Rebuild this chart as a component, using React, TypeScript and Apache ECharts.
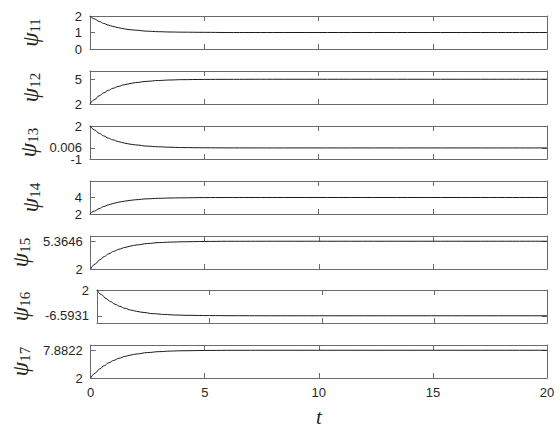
import React, { useEffect, useRef } from "react";
import * as echarts from "echarts";

const times = [0, 0.2, 0.4, 0.6, 0.8, 1, 1.25, 1.5, 1.75, 2, 2.5, 3, 3.5, 4, 5, 6, 8, 20];

const psi11 = [2, 1.82, 1.67, 1.55, 1.45, 1.37, 1.29, 1.22, 1.17, 1.14, 1.08, 1.05, 1.03, 1.02, 1.01, 1.0, 1, 1];
const psi12 = [2, 2.54, 2.99, 3.35, 3.65, 3.9, 4.14, 4.33, 4.48, 4.6, 4.75, 4.85, 4.91, 4.95, 4.98, 4.99, 5, 5];
const psi13 = [2, 1.64, 1.34, 1.1, 0.9, 0.74, 0.58, 0.45, 0.35, 0.28, 0.17, 0.11, 0.07, 0.04, 0.02, 0.01, 0.006, 0.006];
const psi14 = [2, 2.36, 2.66, 2.9, 3.1, 3.26, 3.43, 3.55, 3.65, 3.73, 3.84, 3.9, 3.94, 3.96, 3.99, 4.0, 4, 4];
const psi15 = [2, 2.61, 3.11, 3.52, 3.85, 4.13, 4.4, 4.61, 4.78, 4.91, 5.09, 5.2, 5.26, 5.3, 5.34, 5.36, 5.3646, 5.3646];
const psi16 = [2, 0.44, -0.84, -1.88, -2.73, -3.43, -4.13, -4.68, -5.1, -5.43, -5.89, -6.16, -6.34, -6.44, -6.53, -6.57, -6.5931, -6.5931];
const psi17 = [2, 3.06, 3.94, 4.65, 5.24, 5.72, 6.19, 6.57, 6.86, 7.09, 7.4, 7.59, 7.71, 7.78, 7.84, 7.87, 7.8822, 7.8822];

const seriesNames = ["11", "12", "13", "14", "15", "16", "17"];
const seriesValues = [psi11, psi12, psi13, psi14, psi15, psi16, psi17];
const yMins = [0, 2, -1, 2, 2, -9, 2];
const yMaxs = [2, 6, 2, 6, 6, 2, 9];
// main tick labels for each panel, plus extra (overlapping) ones drawn on a helper axis
const yTicks = [
  [0, 1, 2],
  [2, 5],
  [-1, 2],
  [2, 4],
  [2, 5.3646],
  [-6.5931, 2],
  [2, 7.8822],
];
const yExtraTicks = [[], [], [0.006], [], [], [], []];
const xTicks = [0, 5, 10, 15, 20];

const tops = [16, 71, 126, 181, 236, 290, 345];
const nameGaps = [48, 48, 50, 48, 58, 65, 58];

const frameColor = "#6a6a6a";
const textColor = "#262626";

export default function App() {
  const ref = useRef<HTMLDivElement>(null);
  useEffect(() => {
    if (!ref.current) return;
    const chart = echarts.init(ref.current, undefined, { renderer: "svg" });
    const grids: any[] = [];
    const xAxes: any[] = [];
    const yAxes: any[] = [];
    const series: any[] = [];
    const n = seriesValues.length;
    const labelFont = {
      fontSize: 13,
      color: textColor,
      fontFamily: "Liberation Sans, Arial, sans-serif",
    };
    for (let i = 0; i < n; i++) {
      grids.push({ left: 90, right: 13, top: tops[i], height: 33 });
      const last = i === n - 1;
      const baseX = {
        type: "value",
        gridIndex: i,
        min: 0,
        max: 20,
        interval: 5,
        splitLine: { show: false },
        axisLine: { show: true, onZero: false, lineStyle: { color: frameColor, width: 1 } },
        axisTick: { show: true, inside: true, length: 5, lineStyle: { color: frameColor } },
      };
      xAxes.push({
        ...baseX,
        position: "bottom",
        axisLabel: {
          show: last,
          margin: 8,
          ...labelFont,
          customValues: xTicks,
        },
        name: last ? "t" : "",
        nameLocation: "middle",
        nameGap: 28,
        nameTextStyle: {
          fontFamily: "Liberation Serif, serif",
          fontStyle: "italic",
          fontSize: 21,
          color: textColor,
        },
      });
      xAxes.push({ ...baseX, position: "top", axisLabel: { show: false } });
      const baseY = {
        type: "value",
        gridIndex: i,
        min: yMins[i],
        max: yMaxs[i],
        splitLine: { show: false },
        axisLine: { show: true, onZero: false, lineStyle: { color: frameColor, width: 1 } },
        axisTick: {
          show: true,
          inside: true,
          length: 5,
          lineStyle: { color: frameColor },
          customValues: [...yTicks[i], ...yExtraTicks[i]],
        },
      };
      const mainIndex = yAxes.length;
      yAxes.push({
        ...baseY,
        position: "left",
        axisLabel: {
          show: true,
          margin: 8,
          ...labelFont,
          customValues: yTicks[i],
          showMinLabel: true,
          showMaxLabel: true,
          hideOverlap: false,
          formatter: (v: number) => String(v),
        },
        name: "{p|ψ}{s|" + seriesNames[i] + "}",
        nameLocation: "middle",
        nameRotate: 90,
        nameGap: nameGaps[i],
        nameTextStyle: {
          color: textColor,
          rich: {
            p: {
              fontFamily: "Liberation Serif, serif",
              fontStyle: "italic",
              fontSize: 23,
              color: textColor,
              lineHeight: 24,
            },
            s: {
              fontFamily: "Liberation Serif, serif",
              fontSize: 15,
              color: textColor,
              lineHeight: 24,
              verticalAlign: "bottom",
              padding: [9, 0, 0, 0],
            },
          },
        },
      });
      yAxes.push({ ...baseY, position: "right", axisLabel: { show: false } });
      if (yExtraTicks[i].length) {
        yAxes.push({
          type: "value",
          gridIndex: i,
          min: yMins[i],
          max: yMaxs[i],
          position: "left",
          splitLine: { show: false },
          axisLine: { show: false, onZero: false },
          axisTick: { show: false },
          axisLabel: {
            show: true,
            margin: 8,
            ...labelFont,
            customValues: yExtraTicks[i],
            formatter: (v: number) => String(v),
          },
        });
      }
      series.push({
        type: "line",
        xAxisIndex: 2 * i,
        yAxisIndex: mainIndex,
        data: times.map((t, j) => [t, seriesValues[i][j]]),
        showSymbol: false,
        smooth: 0.4,
        smoothMonotone: "x",
        lineStyle: { color: "#1a1a1a", width: 1 },
        silent: true,
      });
    }
    chart.setOption({
      animation: false,
      backgroundColor: "#ffffff",
      grid: grids,
      xAxis: xAxes,
      yAxis: yAxes,
      series,
    });
    return () => chart.dispose();
  }, []);
  return (
    <div
      ref={ref}
      style={{ position: "fixed", left: 0, top: 0, width: 560, height: 433, background: "#fff" }}
    />
  );
}
